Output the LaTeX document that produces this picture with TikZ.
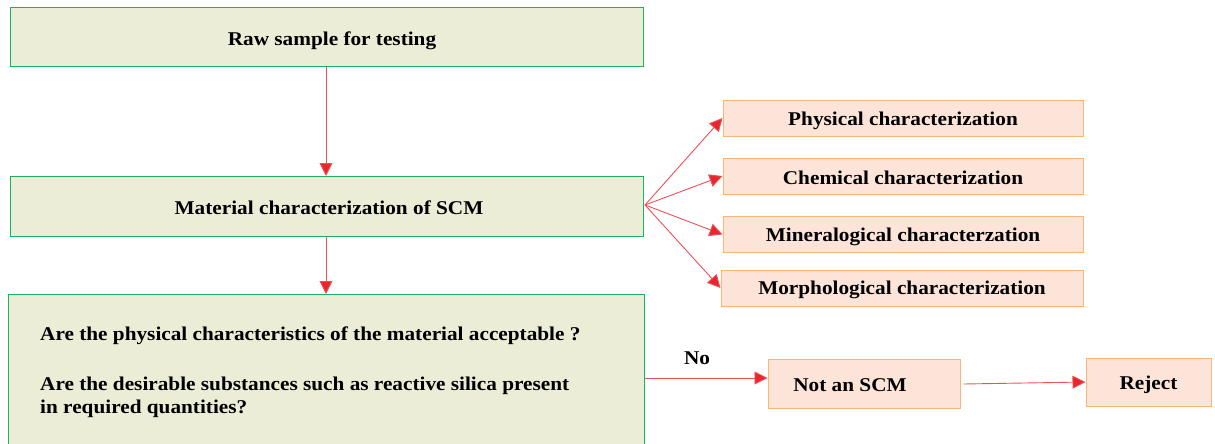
\documentclass[tikz,border=0pt]{standalone}
\usepackage{fontspec}
\setmainfont{Liberation Serif}[FakeStretch=1.09]
\usetikzlibrary{arrows.meta}
\definecolor{gfill}{HTML}{EBEDD6}
\definecolor{gline}{HTML}{1DB15C}
\definecolor{ofill}{HTML}{FCE4D8}
\definecolor{oline}{HTML}{F8B676}
\definecolor{ared}{HTML}{E8262E}
\newcommand{\dn}[2][3pt]{\raisebox{-#1}[\height][\depth]{#2}}
\tikzset{
  gbox/.style={draw=gline, fill=gfill, line width=1pt},
  obox/.style={draw=oline, fill=ofill, line width=1pt},
  txt/.style={font=\fontsize{19.5}{22}\selectfont\bfseries, inner sep=0pt},
  arr/.style={draw=ared!80, line width=0.9pt, -{Triangle[length=13pt,width=13pt,fill=ared]}},
}
\begin{document}
\begin{tikzpicture}[x=1pt,y=-1pt]
\useasboundingbox (0,0) rectangle (1215,444);
% green boxes
\draw[gbox] (10,8) rectangle (643,67);
\node[txt] (raw) at (332,41) {Raw sample for testing};
\coordinate (rawb) at (326,67);
\draw[gbox] (10,176) rectangle (643,236);
\node[txt] (mat) at (329,208) {Material characterization of SCM};
\coordinate (matt) at (326,176);
\coordinate (matb) at (326,236);
\coordinate (matr) at (645,205);
\draw[gbox] (8,294) rectangle (644,450);
\coordinate (qt) at (326,294);
\coordinate (qr) at (645,378);
\node[txt, anchor=west] (q1) at (40,336) {Are the physical characteristics of the material acceptable ?};
\node[txt, anchor=west, align=left] (q2) at (40,397) {Are the desirable substances such as reactive silica present\\[1pt]in required quantities?};
% orange boxes
\node[obox, minimum width=360pt, minimum height=36pt, txt] (phys) at (903,118) {\dn{Physical characterization}};
\node[obox, minimum width=360pt, minimum height=36pt, txt] (chem) at (903,176) {\dn[2pt]{Chemical characterization}};
\node[obox, minimum width=360pt, minimum height=36pt, txt] (min) at (903,234.5) {\dn[2pt]{Mineralogical characterzation}};
\node[obox, minimum width=362pt, minimum height=36pt, txt] (morph) at (902,288) {\dn[2pt]{Morphological characterization}};
\node[obox, minimum width=192pt, minimum height=49pt, txt] (not) at (864,384) {\kern-14pt\dn[1pt]{Not an SCM}\kern14pt};
\node[obox, minimum width=125pt, minimum height=48pt, txt] (rej) at (1148.5,382) {\dn[3pt]{Reject}};
\node[txt] (no) at (697,358) {No};
% arrows
\draw[arr] (rawb) -- (matt);
\draw[arr] (matb) -- (qt);
\draw[arr] (matr) -- (phys.west);
\draw[arr] (matr) -- (chem.west);
\draw[arr] (matr) -- (min.west);
\draw[arr] (matr) -- (morph.west);
\draw[arr] (qr) -- (not.west |- qr);
\draw[arr] ([xshift=3pt]not.east) -- (rej.west);
\end{tikzpicture}
\end{document}
